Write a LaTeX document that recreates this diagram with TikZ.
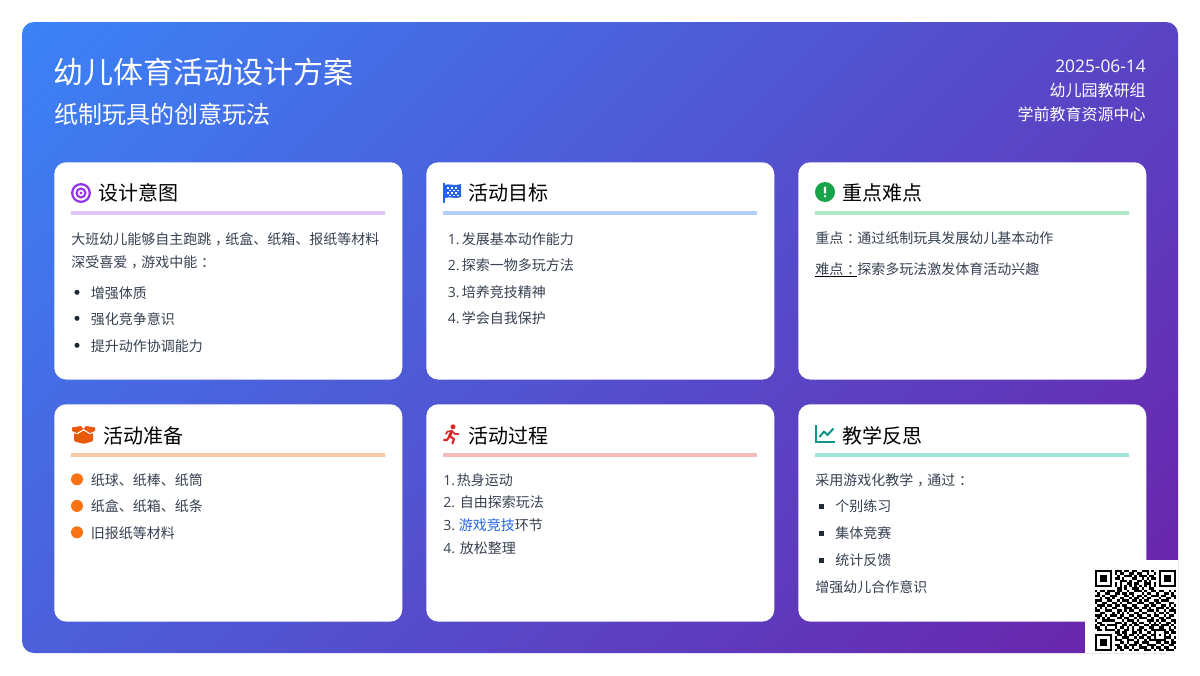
\documentclass[tikz,border=0pt]{standalone}
\usepackage{fontspec}
\setmainfont{Noto Sans CJK SC}
\newfontfamily\numfont{Open Sans}
\definecolor{bgblue}{HTML}{3B82F6}
\definecolor{bgpurple}{HTML}{6B21A8}
\definecolor{bodygray}{HTML}{374151}
\definecolor{dotgray}{HTML}{1F2937}
\definecolor{iconpurple}{HTML}{9333EA}
\definecolor{iconblue}{HTML}{2563EB}
\definecolor{icongreen}{HTML}{16A34A}
\definecolor{iconorange}{HTML}{EA580C}
\definecolor{iconred}{HTML}{DC2626}
\definecolor{iconteal}{HTML}{0D9488}
\definecolor{dotorange}{HTML}{F97316}
\definecolor{rulepurple}{HTML}{E0C5F6}
\definecolor{ruleblue}{HTML}{B3D0F4}
\definecolor{rulegreen}{HTML}{AEE8C3}
\definecolor{ruleorange}{HTML}{F5CBA6}
\definecolor{rulered}{HTML}{F4BCBC}
\definecolor{ruleteal}{HTML}{A1E6DD}
\tikzset{
  headtext/.style={text=white,inner sep=0,font=\fontsize{12}{14}\selectfont},
  cardtitle/.style={anchor=base west,inner sep=0,text=black,font=\fontsize{15}{18}\selectfont},
  bodytext/.style={anchor=base west,inner sep=0,text=bodygray,font=\fontsize{10.5}{12}\selectfont},
  cardbox/.style={fill=white,rounded corners=9pt,minimum width=261pt,anchor=north west,inner sep=0},
  listdot/.style={circle,fill=dotgray,minimum size=3.8pt,inner sep=0},
  listsquare/.style={rectangle,fill=dotgray,minimum size=3.8pt,inner sep=0},
  orangedot/.style={circle,fill=dotorange,minimum size=9pt,inner sep=0},
}
% full-width marks sit in the middle of their cell
\newcommand\midmark[1]{\kern.28em #1\kern-.28em}
% qr modules, one row at a time
\newcount\qrx
\def\qrscan#1{\ifx#1e\else\if#11\fill ({1095+2.455*\the\qrx},{570+2.455*\j}) rectangle ++(2.455,2.455);\fi\advance\qrx by 1 \expandafter\qrscan\fi}
\begin{document}
\begin{tikzpicture}[x=0.75pt,y=-0.75pt]
\useasboundingbox (0,0) rectangle (1200,675);
\fill[white] (0,0) rectangle (1200,675);
% background
\begin{scope}
\clip[rounded corners=9pt] (22,22) rectangle (1178,653);
\shade[top color=bgblue,bottom color=bgpurple,shading angle=45] (-31.8,-294.3) rectangle (1231.8,969.3);
\end{scope}
% header
\node[headtext,anchor=base west,font=\fontsize{22.5}{26}\selectfont] (maintitle) at (53.2,83) {幼儿体育活动设计方案};
\node[headtext,anchor=base west,font=\fontsize{18}{22}\selectfont] (subtitle) at (54,123) {纸制玩具的创意玩法};
\node[headtext,anchor=base east] (datetext) at (1146,72) {\fontsize{13}{14}\selectfont\numfont 2025-06-14};
\node[headtext,anchor=base east] (grouptext) at (1146,96) {幼儿园教研组};
\node[headtext,anchor=base east] (centertext) at (1146,120) {学前教育资源中心};
% cards
\foreach \nm/\cx/\cy/\ty/\tx/\rulecol/\ctitle in {
  aim/54/162/200/98.5/rulepurple/设计意图,
  goal/426/162/200/468.5/ruleblue/活动目标,
  key/798/162/200/842.5/rulegreen/重点难点,
  prep/54/404/443/103.5/ruleorange/活动准备,
  proc/426/404/443/468.5/rulered/活动过程,
  refl/798/404/443/842.5/ruleteal/教学反思}{
  \node[cardbox,minimum height=163pt] (\nm) at (\cx,\cy) {};
  \node[cardtitle] (\nm title) at (\tx,\ty) {\ctitle};
  \fill[\rulecol] (\cx+17,\cy+49) rectangle (\cx+331,\cy+53);
}
% card 1
\node[bodytext] (aima) at (71,244) {大班幼儿能够自主跑跳\midmark{，}纸盒、纸箱、报纸等材料};
\node[bodytext] (aimb) at (71,267) {深受喜爱\midmark{，}游戏中能\midmark{：}};
\foreach \nm/\yy/\txt in {c/298/增强体质,d/324/强化竞争意识,e/351/提升动作协调能力}{
  \node[listdot] (aimdot\nm) at (77,\yy-5.7) {};
  \node[bodytext] (aim\nm) at (90.5,\yy) {\txt};
}
% card 2
\foreach \nm/\yy/\num/\txt in {a/244/1/发展基本动作能力,b/270.5/2/探索一物多玩方法,c/297.4/3/培养竞技精神,d/323.4/4/学会自我保护}{
  \node[bodytext] (goalnum\nm) at (447.5,\yy) {\numfont\num.};
  \node[bodytext] (goal\nm) at (461.5,\yy) {\txt};
}
% card 3
\node[bodytext] (keya) at (815,243) {重点\midmark{：}通过纸制玩具发展幼儿基本动作};
\node[bodytext] (keyb) at (815,274) {难点\midmark{：}探索多玩法激发体育活动兴趣};
\draw[black,line width=0.75pt] (keyb.base west)++(0,2.5) -- ++(42,0);
% card 4
\foreach \nm/\yy/\txt in {a/485/纸球、纸棒、纸筒,b/511.6/纸盒、纸箱、纸条,c/538/旧报纸等材料}{
  \node[orangedot] (prepdot\nm) at (77,\yy-5.7) {};
  \node[bodytext] (prep\nm) at (90.5,\yy) {\txt};
}
% card 5
\foreach \nm/\yy/\num/\xx/\txt in {a/485/1/456.7/热身运动,b/507/2/459.5/自由探索玩法,d/553/4/459.5/放松整理}{
  \node[bodytext] (procnum\nm) at (443,\yy) {\numfont\num.};
  \node[bodytext] (proc\nm) at (\xx,\yy) {\txt};
}
\node[bodytext] (procnumc) at (443,530) {\numfont 3.};
\node[bodytext] (procc) at (458.5,530) {\textcolor{iconblue}{游戏竞技}环节};
% card 6
\node[bodytext] (refla) at (815,485) {采用游戏化教学\midmark{，}通过\midmark{：}};
\foreach \nm/\yy/\txt in {b/511/个别练习,c/538/集体竞赛,d/565/统计反馈}{
  \node[listsquare] (reflsq\nm) at (821.5,\yy-4.5) {};
  \node[bodytext] (refl\nm) at (835,\yy) {\txt};
}
\node[bodytext] (refle) at (815,592) {增强幼儿合作意识};
% target icon
\fill[iconpurple] (81,193) circle[radius=10];
\fill[white] (81,193) circle[radius=7.6];
\fill[iconpurple] (81,193) circle[radius=5.6];
\fill[white] (81,193) circle[radius=3.2];
\fill[iconpurple] (81,193) circle[radius=1.6];
% flag icon
\fill[iconblue] (443,183) rectangle (445,203);
\fill[iconblue] (445,185) .. controls (449,183) and (453,186.5) .. (461,184) -- (461,197) .. controls (455,199.5) and (450,196) .. (445,198) -- cycle;
\foreach \fx/\fy in {447/187,451/187,455/187,449/189.5,453/189.5,457/189.5,447/192,451/192,455/192,449/194.5,453/194.5,457/194.5}
  \fill[white] (\fx,\fy) rectangle ++(1.7,1.7);
% alert icon
\fill[icongreen] (825,192) circle[radius=10];
\fill[white,rounded corners=0.6pt] (823.9,186.5) rectangle (826.1,193.5);
\fill[white] (825,196.2) circle[radius=1.3];
% box icon
\fill[iconorange] (72,427.5) -- (81,426) -- (83.5,429) -- (77,433) -- (72,431) -- cycle;
\fill[iconorange] (95,427.5) -- (86,426) -- (83.5,429) -- (90,433) -- (95,431) -- cycle;
\fill[iconorange,rounded corners=0.8pt] (74,432.8) -- (77,434.6) -- (83.5,430.6) -- (90,434.6) -- (93,432.8) -- (93,441.2) -- (83.5,443.8) -- (74,441.2) -- cycle;
% runner icon
\fill[iconred] (453,426.8) circle[radius=2.5];
\draw[iconred,line width=2.2pt,line cap=round,line join=round] (451.5,431.5) -- (449.5,436.5);
\draw[iconred,line width=1.6pt,line cap=round,line join=round] (449,437) -- (447,440) -- (444,440);
\draw[iconred,line width=1.6pt,line cap=round,line join=round] (449.5,436) -- (454,439) -- (452.5,443.5);
\draw[iconred,line width=1.2pt,line cap=round,line join=round] (451.5,431) -- (447.5,431.5) -- (446,434);
\draw[iconred,line width=1.2pt,line cap=round,line join=round] (452,431) -- (455,434) -- (458.5,434);
% chart icon
\draw[iconteal,line width=1.5pt] (816,425) -- (816,441.5) -- (835,441.5);
\draw[iconteal,line width=1.5pt,line join=round] (819.5,437) -- (824,431.5) -- (827.5,435) -- (833.5,428.5);
% qr code
\fill[white] (1085,560) rectangle (1178,653);
\foreach \bits [count=\j from 0] in {
111111101110110110011101001111111,
100000101011001101100100101000001,
101110100100111010111011001011101,
101110101101000110010101101011101,
101110100011101001101010001011101,
100000101010011011001110101000001,
111111101010101010101010101111111,
000000000110100111010011000000000,
101101110110010011101001101100101,
010011001101101100010110010011010,
110100111000110101101001110110011,
001011010011001011010110001001101,
111001100101110110101100110111000,
100110011010011001110011011000110,
011101101101100110001101100110101,
101010011000111011011010011101010,
110011100110101100100111010010111,
001100010101010011011000101101001,
111010111011001101100110110010110,
010101000110110010111001001101100,
100111110001011101000111010110011,
011000001110100110110010101001101,
101101111001101011001101110111010,
110010001011010100110011001100101,
011011110100110101101001111110110,
000000001101100110100110100011011,
111111100110101101011001101010100,
100000101001110010110110100011101,
101110101110011101001011111110010,
101110100011010011011100011011011,
101110101100101110100111100100110,
100000100110110100111001011011001,
111111101011001011001110101101110}{
  \global\qrx=0
  \expandafter\qrscan\bits e
}
\end{tikzpicture}
\end{document}
